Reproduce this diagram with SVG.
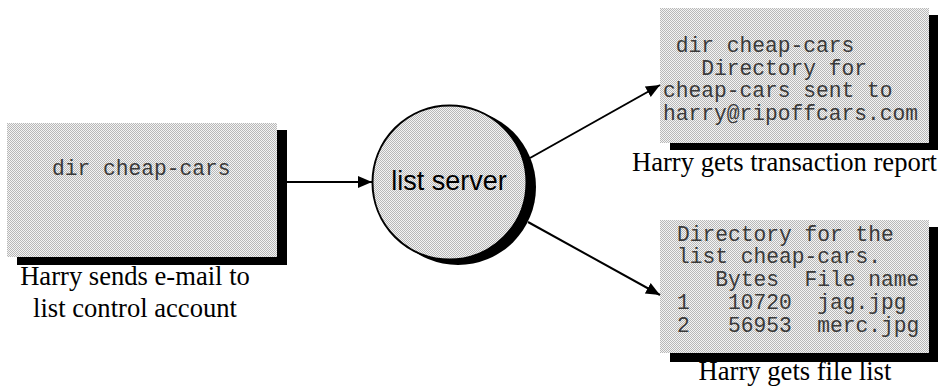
<svg xmlns="http://www.w3.org/2000/svg" width="941" height="386" viewBox="0 0 941 386">
  <defs>
    <!-- fine dither used as the fill of boxes and the server disc -->
    <pattern id="dither" patternUnits="userSpaceOnUse" width="2" height="2">
      <rect width="2" height="2" fill="#f4f4f4"/>
      <rect x="0" y="0" width="1" height="1" fill="#b8b8b8"/>
      <rect x="1" y="1" width="1" height="1" fill="#b8b8b8"/>
    </pattern>
    <marker id="arrow" markerUnits="userSpaceOnUse" markerWidth="15" markerHeight="15" viewBox="0 0 15 15" refX="14" refY="7.5" orient="auto">
      <path d="M0,1.5 L14,7.5 L0,13.5 Z" fill="#000"/>
    </marker>
  </defs>
  <style>
    .shadow { fill: #000; }
    .panel { fill: url(#dither); }
    .mono { font-family: "Liberation Mono", "Courier New", monospace; font-size: 21.25px; fill: #3a3a3a; white-space: pre; }
    .caption { font-family: "Liberation Serif", "Times New Roman", serif; font-size: 26.6px; fill: #000; text-anchor: middle; }
    .label { font-family: "Liberation Sans", Arial, sans-serif; font-size: 27px; fill: #000; text-anchor: middle; }
    .link { stroke: #000; stroke-width: 2; fill: none; marker-end: url(#arrow); }
  </style>

  <!-- request message sent by Harry -->
  <g id="request">
    <rect class="shadow" x="17" y="130" width="270" height="135"/>
    <rect class="panel" x="7" y="123" width="270" height="134"/>
    <text class="mono" x="52" y="175">dir cheap-cars</text>
    <text class="caption" x="135" y="285">Harry sends e-mail to</text>
    <text class="caption" x="135" y="317">list control account</text>
  </g>

  <!-- list server -->
  <g id="server">
    <circle class="shadow" cx="458" cy="187" r="78"/>
    <circle class="panel" cx="449.5" cy="182.5" r="77" stroke="#000" stroke-width="2"/>
    <text class="label" x="449" y="190">list server</text>
  </g>

  <!-- transaction report returned -->
  <g id="report">
    <rect class="shadow" x="670" y="15" width="268" height="135"/>
    <rect class="panel" x="660" y="8" width="269" height="135"/>
    <text class="mono" x="675.75" y="52">dir cheap-cars</text>
    <text class="mono" x="701.25" y="74.5">Directory for</text>
    <text class="mono" x="663" y="97">cheap-cars sent to</text>
    <text class="mono" x="663" y="119.5">harry@ripoffcars.com</text>
    <text class="caption" x="784.5" y="171">Harry gets transaction report</text>
  </g>

  <!-- file list returned -->
  <g id="filelist">
    <rect class="shadow" x="670" y="227" width="268" height="135"/>
    <rect class="panel" x="660" y="220" width="269" height="133"/>
    <text class="mono" x="677" y="240.5">Directory for the</text>
    <text class="mono" x="677" y="263.3">list cheap-cars.</text>
    <text class="mono" x="677" y="286">   Bytes  File name</text>
    <text class="mono" x="677" y="308.8">1   10720  jag.jpg</text>
    <text class="mono" x="677" y="331.6">2   56953  merc.jpg</text>
    <text class="caption" x="795" y="380">Harry gets file list</text>
  </g>

  <!-- connectors -->
  <g id="connectors">
    <line class="link" x1="287" y1="182" x2="372" y2="182"/>
    <line class="link" x1="530" y1="158" x2="660" y2="85"/>
    <line class="link" x1="528" y1="222" x2="660" y2="295"/>
  </g>
</svg>
